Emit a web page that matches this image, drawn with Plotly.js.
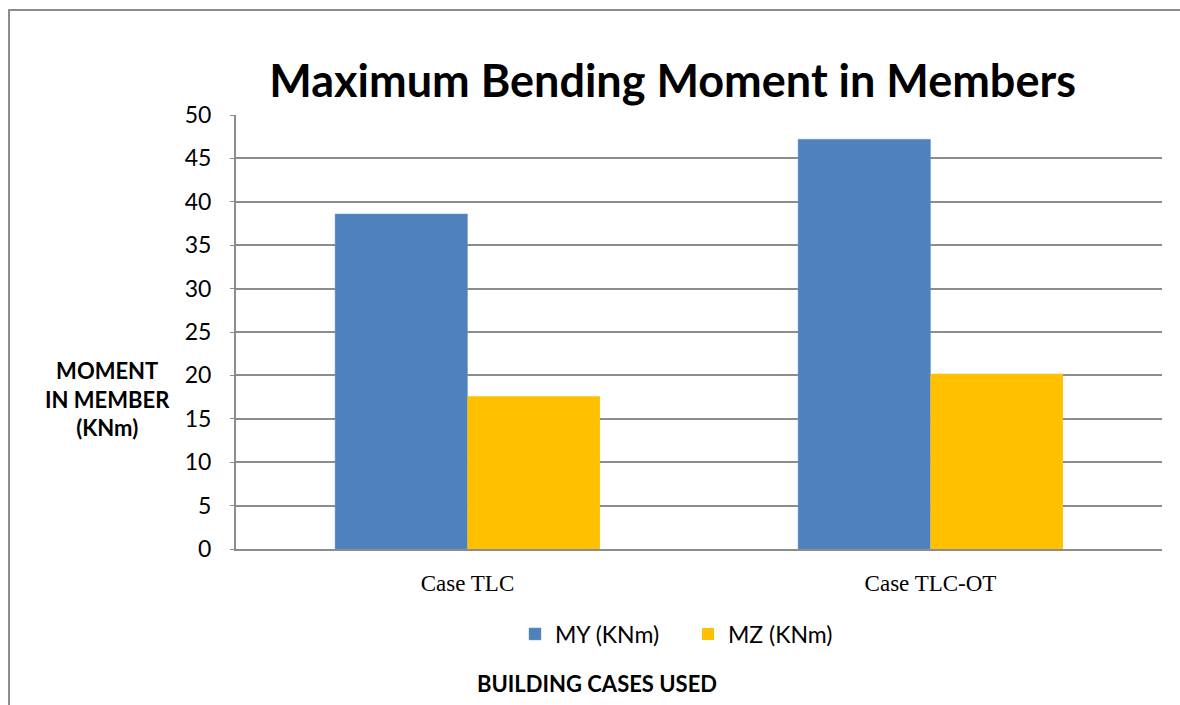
<!DOCTYPE html>
<html><head><meta charset="utf-8">
<script src="https://cdn.plot.ly/plotly-3.0.1.min.js"></script>
<style>
html,body{margin:0;padding:0;background:#fff;}
#frame{position:absolute;left:8px;top:9px;width:1200px;height:720px;border-left:2px solid #8c8c8c;border-top:2px solid #8c8c8c;pointer-events:none;z-index:5;}
#chart{position:absolute;left:0;top:0;width:1180px;height:705px;}
</style></head>
<body>
<div id="chart"></div>
<div id="frame"></div>
<script>
const categories = ["Case TLC", "Case TLC-OT"];
const seriesNames = ["MY (KNm)", "MZ (KNm)"];
const myValues = [38.6, 47.2];
const mzValues = [17.6, 20.2];
const yTicks = [0, 5, 10, 15, 20, 25, 30, 35, 40, 45, 50];

const traces = [
  {type:'bar', name:seriesNames[0], x:categories, y:myValues, marker:{color:'#4f81bd', line:{color:'#6f9bd1', width:0.5}}},
  {type:'bar', name:seriesNames[1], x:categories, y:mzValues, marker:{color:'#ffc000'}}
];

const layout = {
  width:1180, height:705,
  paper_bgcolor:'#fff', plot_bgcolor:'#fff',
  margin:{l:236, r:18, t:115, b:156},
  barmode:'group', bargap:0.428, bargroupgap:0,
  showlegend:true,
  title:{text:'<b>Maximum Bending Moment in Members</b>', font:{family:'Lato, sans-serif', size:45, color:'#000'}, x:0.570, xanchor:'center', xref:'container', y:0.885, yanchor:'middle', yref:'container'},
  xaxis:{type:'category', showgrid:false, showline:true, linecolor:'#8c8c8c', linewidth:2, ticks:'', tickfont:{family:'Liberation Serif, serif', size:23, color:'#000'}, ticklabelstandoff:12, fixedrange:true},
  yaxis:{range:[0,50], tickvals:yTicks, showgrid:true, gridcolor:'#8c8c8c', gridwidth:2, showline:true, linecolor:'#8c8c8c', linewidth:2, ticks:'outside', ticklen:4, tickcolor:'#8c8c8c', ticklabelstandoff:14, tickfont:{family:'Lato, sans-serif', size:23, color:'#000'}, zeroline:false, fixedrange:true},
  legend:{orientation:'h', x:515/1180, xanchor:'left', xref:'container', y:1 - 634/705, yanchor:'middle', yref:'container', font:{family:'Lato, sans-serif', size:23, color:'#000'}, traceorder:'normal', entrywidth:128, entrywidthmode:'pixels'},
  annotations:[
    {text:'<b>MOMENT<br>IN MEMBER<br>(KNm)</b>', xref:'paper', yref:'paper', x:-0.139, y:0.346, xanchor:'center', yanchor:'middle', showarrow:false, align:'center', font:{family:'Lato, sans-serif', size:22, color:'#000'}},
    {text:'<b>BUILDING CASES USED</b>', xref:'paper', yref:'paper', x:(597 - 236) / 926, y:-0.311, xanchor:'center', yanchor:'middle', showarrow:false, font:{family:'Lato, sans-serif', size:22, color:'#000'}}
  ]
};
Plotly.newPlot('chart', traces, layout, {displayModeBar:false, staticPlot:true});
</script>
</body></html>
